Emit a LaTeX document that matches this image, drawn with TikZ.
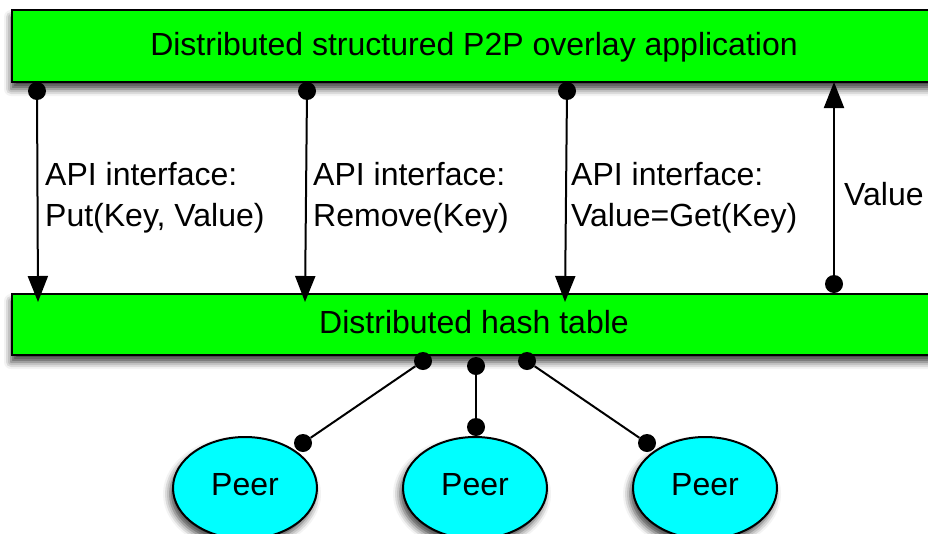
\documentclass[tikz,border=0pt]{standalone}
\usepackage{fontspec}
\setmainfont{Liberation Sans}
\usetikzlibrary{arrows.meta,shapes.geometric,shadows.blur}
\definecolor{barg}{RGB}{0,255,0}
\definecolor{peerc}{RGB}{0,255,255}
\begin{document}
\begin{tikzpicture}[x=1pt,y=-1pt,
  every node/.style={font=\fontsize{32}{38}\selectfont},
  bar/.style={draw=black,line width=2pt,fill=barg,rectangle,inner sep=0pt,anchor=north west,
    text height=23pt,text depth=5pt,
    blur shadow={shadow xshift=-1pt,shadow yshift=-7pt,shadow blur radius=7pt,shadow opacity=75}},
  peer/.style={draw=black,line width=2pt,fill=peerc,ellipse,inner sep=0pt,
    minimum width=144pt,minimum height=102pt,text height=23pt,text depth=8pt,
    blur shadow={shadow xshift=-3pt,shadow yshift=-6pt,shadow blur radius=7pt,shadow opacity=75}},
  dot/.style={circle,fill=black,inner sep=0pt,minimum size=18pt},
  lab/.style={anchor=base west,inner sep=0pt},
  conn/.style={line width=2pt,draw=black},
  arr/.style={conn,-{Triangle[length=26pt,width=20pt]}}
]
\useasboundingbox (0,0) rectangle (928,533);

\node[bar,minimum width=924pt,minimum height=72pt] (app) at (11,9) {Distributed structured P2P overlay application};
\node[bar,minimum width=924pt,minimum height=61pt] (dht) at (11,293) {Distributed hash table};

\node[peer] (p1) at (245,488) {Peer};
\node[peer] (p2) at (475,488) {Peer};
\node[peer] (p3) at (705,488) {Peer};

% API arrows
\node[dot] (a1) at (37,91) {};
\node[dot] (a2) at (307,91) {};
\node[dot] (a3) at (567,91) {};
\coordinate (b1) at (38,302);
\coordinate (b2) at (305,302);
\coordinate (b3) at (565,302);
\draw[arr] (a1) -- (b1);
\draw[arr] (a2) -- (b2);
\draw[arr] (a3) -- (b3);

% Value arrow
\node[dot] (v1) at (834,284) {};
\coordinate (v2) at (834,82);
\draw[arr] (v1) -- (v2);

% labels
\node[lab] (l1a) at (45,185) {API interface:};
\node[lab] (l1b) at (45,226) {Put(Key, Value)};
\node[lab] (l2a) at (313,185) {API interface:};
\node[lab] (l2b) at (313,226) {Remove(Key)};
\node[lab] (l3a) at (571,185) {API interface:};
\node[lab] (l3b) at (571,226) {Value=Get(Key)};
\node[lab] (l4) at (844,205) {Value};

% DHT to peers
\node[dot] (h1) at (423,361) {};
\node[dot] (h2) at (476,366) {};
\node[dot] (h3) at (527,361) {};
\node[dot] (q1) at (303,443) {};
\node[dot] (q2) at (476,427) {};
\node[dot] (q3) at (647,443) {};
\draw[conn] (h1) -- (q1);
\draw[conn] (h2) -- (q2);
\draw[conn] (h3) -- (q3);
\end{tikzpicture}
\end{document}
